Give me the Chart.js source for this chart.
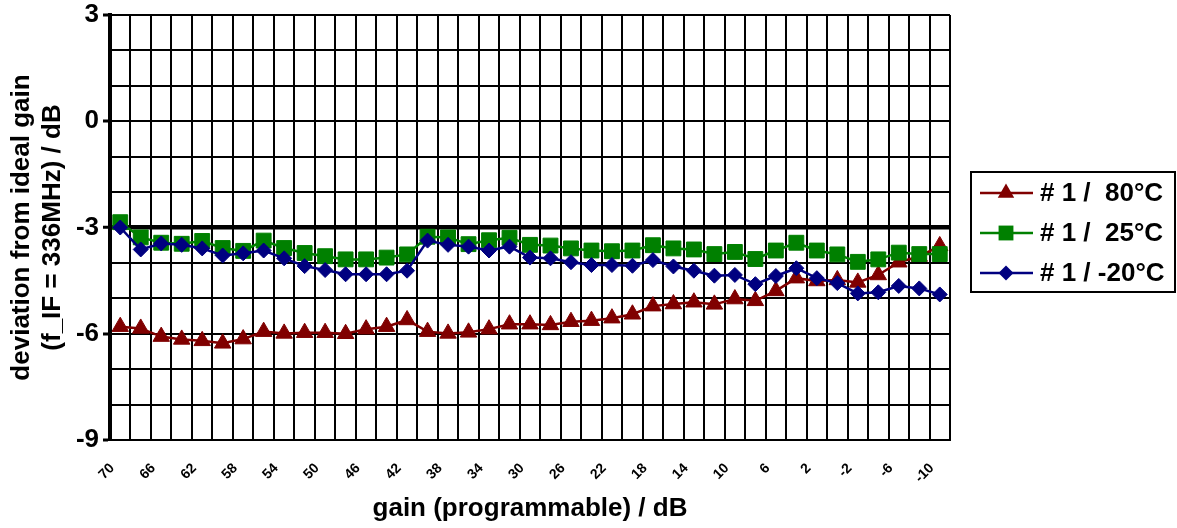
<!DOCTYPE html>
<html>
<head>
<meta charset="utf-8">
<script src="https://cdn.jsdelivr.net/npm/chart.js@4"></script>
<style>
  body { margin: 0; background: #fff; }
  #wrap { width: 1177px; height: 528px; position: relative; }
</style>
</head>
<body>
<div id="wrap"><canvas id="gain-chart"></canvas></div>
<script>
const gains = ["70", "68", "66", "64", "62", "60", "58", "56", "54", "52", "50", "48", "46", "44",
  "42", "40", "38", "36", "34", "32", "30", "28", "26", "24", "22", "20", "18", "16", "14",
  "12", "10", "8", "6", "4", "2", "0", "-2", "-4", "-6", "-8", "-10"];

const dev80 = [-5.80, -5.85, -6.08, -6.16, -6.20, -6.27, -6.15, -5.94, -5.99, -5.97, -5.97,
  -6.00, -5.87, -5.80, -5.61, -5.94, -5.99, -5.96, -5.87, -5.73, -5.73, -5.75, -5.66, -5.63,
  -5.56, -5.45, -5.22, -5.16, -5.11, -5.17, -5.02, -5.07, -4.79, -4.43, -4.51, -4.48, -4.55,
  -4.34, -3.98, -3.82, -3.52];

const dev25 = [-2.85, -3.28, -3.43, -3.46, -3.38, -3.58, -3.66, -3.37, -3.58, -3.72, -3.81,
  -3.90, -3.90, -3.85, -3.76, -3.26, -3.28, -3.47, -3.36, -3.29, -3.49, -3.51, -3.59, -3.65,
  -3.67, -3.65, -3.50, -3.59, -3.62, -3.75, -3.69, -3.89, -3.65, -3.43, -3.65, -3.76, -3.97,
  -3.90, -3.71, -3.75, -3.75];

const devMinus20 = [-3.00, -3.62, -3.45, -3.49, -3.59, -3.79, -3.73, -3.65, -3.87, -4.09, -4.20,
  -4.32, -4.32, -4.32, -4.22, -3.37, -3.49, -3.54, -3.65, -3.54, -3.85, -3.87, -3.98, -4.06,
  -4.06, -4.08, -3.92, -4.10, -4.22, -4.36, -4.34, -4.60, -4.37, -4.15, -4.43, -4.57, -4.86,
  -4.83, -4.65, -4.72, -4.89];

const seriesNames = ["# 1 /  80\u00B0C", "# 1 /  25\u00B0C", "# 1 / -20\u00B0C"];

const FONT = "'Liberation Sans', Arial, sans-serif";

// legend with line + marker inside a framed box, like the original
const boxLegend = {
  id: "boxLegend",
  afterDraw(chart) {
    const ctx = chart.ctx;
    ctx.save();
    ctx.strokeStyle = "#000";
    ctx.lineWidth = 2;
    ctx.strokeRect(971, 172, 204, 120);
    chart.data.datasets.forEach((ds, i) => {
      const y = 193 + i * 40;
      ctx.strokeStyle = ds.borderColor;
      ctx.lineWidth = 2.5;
      ctx.beginPath();
      ctx.moveTo(980, y);
      ctx.lineTo(1033, y);
      ctx.stroke();
      ctx.fillStyle = ds.borderColor;
      Chart.helpers.drawPoint(ctx, { pointStyle: ds.pointStyle, radius: ds.pointRadius, rotation: 0, borderWidth: 0 }, 1006, y);
      ctx.fillStyle = "#000";
      ctx.font = "bold 26px " + FONT;
      ctx.textBaseline = "middle";
      ctx.textAlign = "left";
      ctx.fillText(ds.label, 1040, y + 1);
    });
    ctx.restore();
  }
};

function makeSet(label, data, color, style, radius, order) {
  return {
    label: label,
    data: data,
    borderColor: color,
    backgroundColor: color,
    pointBackgroundColor: color,
    pointBorderColor: color,
    pointBorderWidth: 1,
    pointStyle: style,
    pointRadius: radius,
    borderWidth: 2.5,
    tension: 0,
    order: order
  };
}

new Chart(document.getElementById("gain-chart"), {
  type: "line",
  data: {
    labels: gains,
    datasets: [
      makeSet(seriesNames[0], dev80, "#800000", "triangle", 9.5, 3),
      makeSet(seriesNames[1], dev25, "#008000", "rect", 10.5, 2),
      makeSet(seriesNames[2], devMinus20, "#000080", "rectRot", 7.5, 1)
    ]
  },
  options: {
    responsive: true,
    maintainAspectRatio: false,
    animation: false,
    layout: { padding: { left: 0, right: 227, top: 0, bottom: 0 } },
    plugins: { legend: { display: false }, tooltip: { enabled: false } },
    scales: {
      x: {
        offset: true,
        grid: { offset: true, color: "#000", lineWidth: 2, drawTicks: false },
        border: { color: "#000", width: 2 },
        ticks: {
          autoSkip: false,
          minRotation: 45,
          maxRotation: 45,
          padding: 20,
          labelOffset: -8,
          color: "#000",
          font: { family: FONT, size: 14, weight: "bold" },
          callback: (v, i) => (i % 2 === 0 ? gains[i] : "")
        },
        title: {
          display: true,
          text: "gain (programmable) / dB",
          color: "#000",
          font: { family: FONT, size: 26, weight: "bold" },
          padding: { top: 4, bottom: 4 }
        },
        afterFit: (scale) => { scale.height = 88; }
      },
      y: {
        min: -9,
        max: 3,
        grid: {
          color: "#000",
          lineWidth: (c) => (c.tick && c.tick.value === -3 ? 4.5 : 2),
          tickLength: 7,
          tickColor: (c) => (c.tick && c.tick.value % 3 === 0 ? "#000" : "rgba(0,0,0,0)"),
          tickWidth: 3
        },
        border: { color: "#000", width: 4 },
        ticks: {
          stepSize: 1,
          padding: 4,
          color: "#000",
          font: { family: FONT, size: 26, weight: "bold" },
          callback: (v) => (v % 3 === 0 ? String(v) : "")
        },
        title: {
          display: true,
          text: ["deviation from ideal gain", "(f_IF = 336MHz) / dB"],
          color: "#000",
          font: { family: FONT, size: 26, weight: "bold" },
          padding: { top: 6, bottom: 4 }
        },
        afterFit: (scale) => {
          scale.width = 110;
          scale.paddingTop = 15;
        }
      }
    }
  },
  plugins: [boxLegend]
});
</script>
</body>
</html>
